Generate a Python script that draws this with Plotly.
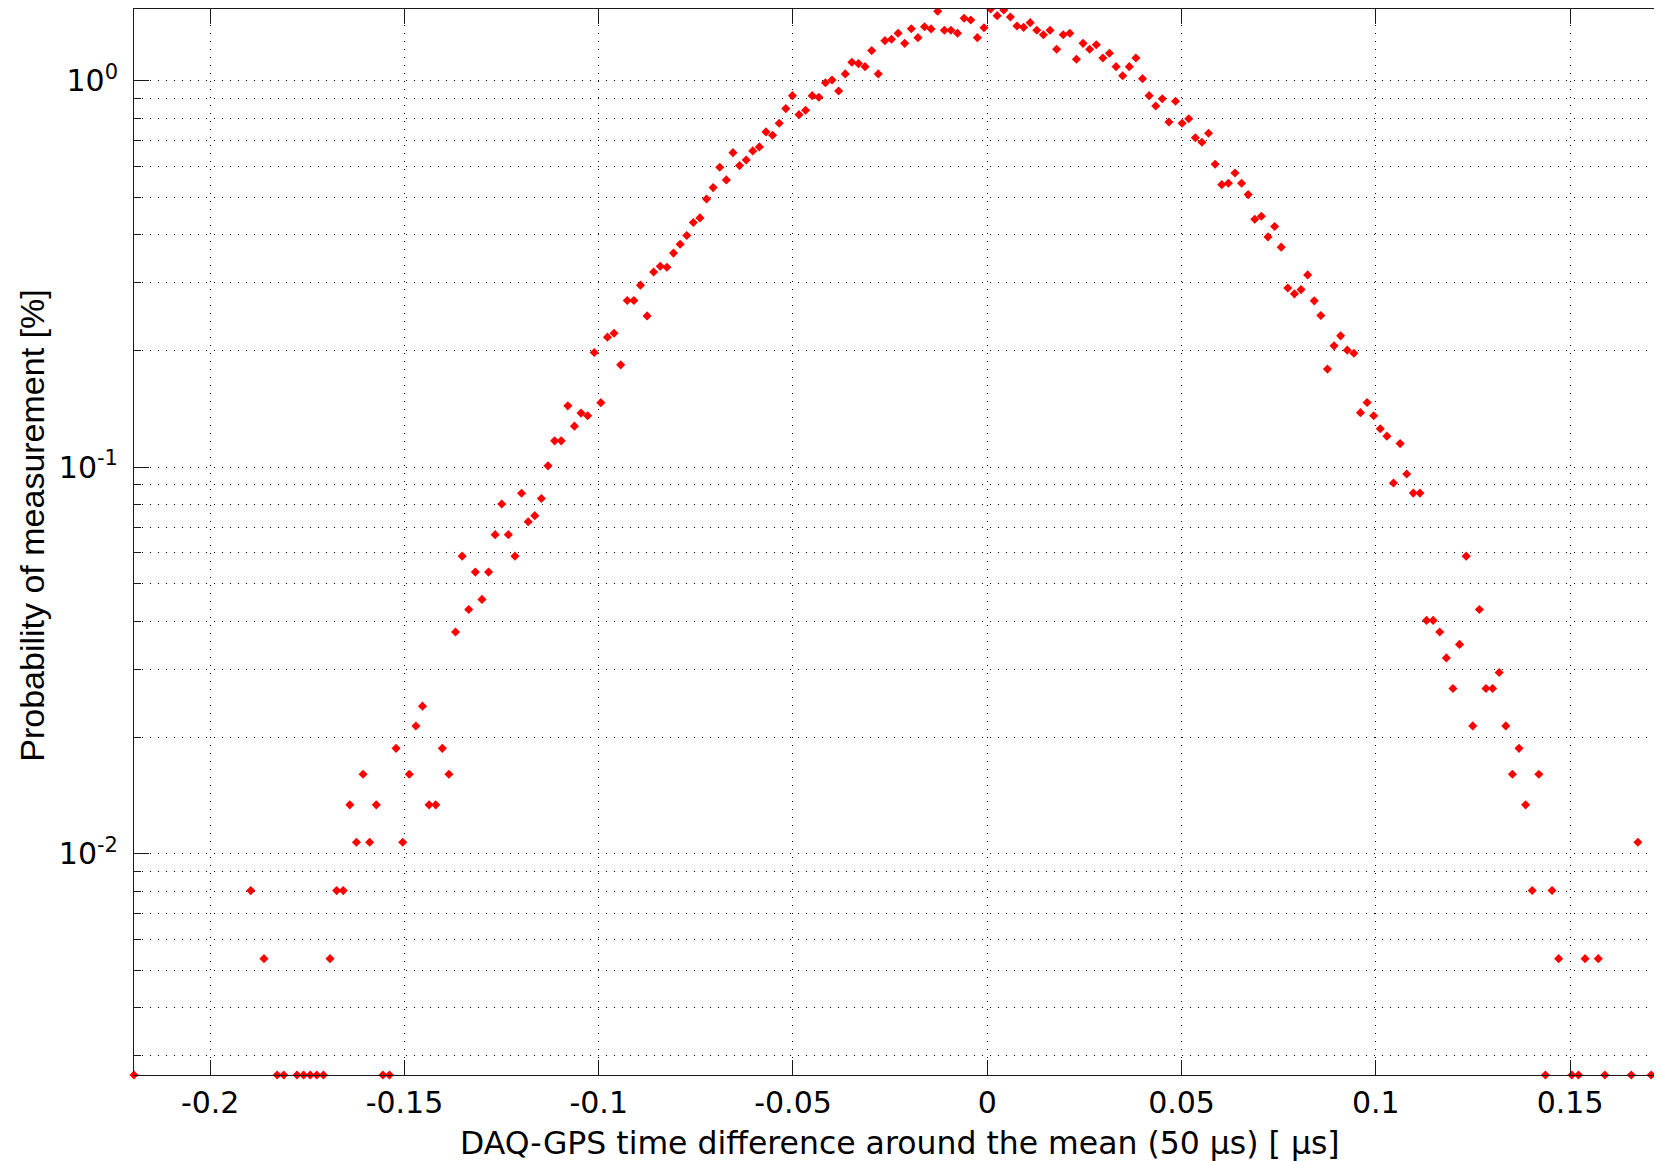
import math
import plotly.graph_objects as go

# ---------------- data (bin centres in µs, probability in %) ----------------
x_left_tail = [-0.2196, -0.18955, -0.18615, -0.18275, -0.18105, -0.17765, -0.17595,
               -0.17425, -0.17255, -0.17085, -0.16915, -0.16745, -0.16575, -0.16405,
               -0.16235, -0.16065, -0.15895, -0.15725, -0.15555, -0.15385, -0.15215,
               -0.15045, -0.14875, -0.14705, -0.14535, -0.14365, -0.14195, -0.14025,
               -0.13855]
y_left_tail = [0.002676, 0.008028, 0.005352, 0.002676, 0.002676, 0.002676, 0.002676,
               0.002676, 0.002676, 0.002676, 0.005352, 0.008028, 0.008028, 0.01338,
               0.010704, 0.016056, 0.010704, 0.01338, 0.002676, 0.002676, 0.018732,
               0.010704, 0.016056, 0.021408, 0.024084, 0.01338, 0.01338, 0.018732,
               0.016056]

x_core = [-0.13685, -0.13515, -0.13345, -0.13175, -0.13005, -0.12835, -0.12665, -0.12495,
          -0.12325, -0.12155, -0.11985, -0.11815, -0.11645, -0.11475, -0.11305, -0.11135,
          -0.10965, -0.10795, -0.10625, -0.10455, -0.10285, -0.10115, -0.09945, -0.09775,
          -0.09605, -0.09435, -0.09265, -0.09095, -0.08925, -0.08755, -0.08585, -0.08415,
          -0.08245, -0.08075, -0.07905, -0.07735, -0.07565, -0.07395, -0.07225, -0.07055,
          -0.06885, -0.06715, -0.06545, -0.06375, -0.06205, -0.06035, -0.05865, -0.05695,
          -0.05525, -0.05355, -0.05185, -0.05015, -0.04845, -0.04675, -0.04505, -0.04335,
          -0.04165, -0.03995, -0.03825, -0.03655, -0.03485, -0.03315, -0.03145, -0.02975,
          -0.02805, -0.02635, -0.02465, -0.02295, -0.02125, -0.01955, -0.01785, -0.01615,
          -0.01445, -0.01275, -0.01105, -0.00935, -0.00765, -0.00595, -0.00425, -0.00255,
          -0.00085, 0.00085, 0.00255, 0.00425, 0.00595, 0.00765, 0.00935, 0.01105,
          0.01275, 0.01445, 0.01615, 0.01785, 0.01955, 0.02125, 0.02295, 0.02465,
          0.02635, 0.02805, 0.02975, 0.03145, 0.03315, 0.03485, 0.03655, 0.03825,
          0.03995, 0.04165, 0.04335, 0.04505, 0.04675, 0.04845, 0.05015, 0.05185,
          0.05355, 0.05525, 0.05695, 0.05865, 0.06035, 0.06205, 0.06375, 0.06545,
          0.06715, 0.06885, 0.07055, 0.07225, 0.07395, 0.07565, 0.07735, 0.07905,
          0.08075, 0.08245, 0.08415, 0.08585, 0.08755, 0.08925, 0.09095, 0.09265,
          0.09435, 0.09605, 0.09775, 0.09945, 0.10115, 0.10285, 0.10455, 0.10625,
          0.10795, 0.10965, 0.11135]
y_core = [0.03746, 0.05887, 0.04282, 0.05352, 0.04549, 0.05352, 0.0669, 0.08028,
          0.0669, 0.05887, 0.08563, 0.07225, 0.07493, 0.08296, 0.1008, 0.117,
          0.117, 0.1441, 0.1277, 0.138, 0.1358, 0.198, 0.1469, 0.217,
          0.222, 0.184, 0.27, 0.27, 0.2958, 0.2463, 0.320, 0.331,
          0.329, 0.358, 0.3775, 0.3974, 0.4294, 0.4415, 0.4943, 0.5288,
          0.597, 0.5536, 0.6513, 0.6029, 0.6236, 0.658, 0.674, 0.737,
          0.7226, 0.776, 0.8466, 0.9146, 0.8168, 0.8386, 0.9146, 0.9059,
          0.988, 1.004, 0.94, 1.041, 1.116, 1.107, 1.087, 1.196,
          1.041, 1.269, 1.28, 1.326, 1.249, 1.363, 1.292, 1.379,
          1.361, 1.512, 1.35, 1.35, 1.326, 1.45, 1.435, 1.292,
          1.371, 1.532, 1.473, 1.523, 1.461, 1.385, 1.374, 1.413,
          1.35, 1.315, 1.35, 1.206, 1.315, 1.326, 1.136, 1.249,
          1.206, 1.239, 1.145, 1.177, 1.087, 1.03, 1.087, 1.145,
          1.012, 0.9146, 0.86, 0.898, 0.782, 0.8844, 0.776, 0.797,
          0.712, 0.693, 0.731, 0.6079, 0.5383, 0.5428, 0.5771, 0.5428,
          0.5073, 0.4381, 0.4459, 0.3943, 0.4194, 0.3709, 0.2909, 0.2808,
          0.288, 0.3144, 0.2694, 0.2468, 0.1794, 0.206, 0.2187, 0.2008,
          0.1972, 0.1384, 0.147, 0.1358, 0.1257, 0.1203, 0.091, 0.1151,
          0.096, 0.0857, 0.0857]

x_right_tail = [0.11305, 0.11475, 0.11645, 0.11815, 0.11985, 0.12155, 0.12325, 0.12495,
                0.12665, 0.12835, 0.13005, 0.13175, 0.13345, 0.13515, 0.13685, 0.13855,
                0.14025, 0.14195, 0.14365, 0.14535, 0.14705, 0.15045, 0.15215, 0.15385,
                0.15725, 0.15895, 0.16575, 0.16745, 0.17085]
y_right_tail = [0.04014, 0.04014, 0.03746, 0.03211, 0.02676, 0.03479, 0.05887, 0.02141,
                0.04282, 0.02676, 0.02676, 0.02944, 0.02141, 0.01606, 0.01873, 0.01338,
                0.00803, 0.01606, 0.002676, 0.00803, 0.005352, 0.002676, 0.002676, 0.005352,
                0.005352, 0.002676, 0.002676, 0.010704, 0.002676]

x_tick_vals = [-0.2, -0.15, -0.1, -0.05, 0, 0.05, 0.1, 0.15]
x_tick_text = ["-0.2", "-0.15", "-0.1", "-0.05", "0", "0.05", "0.1", "0.15"]
y_tick_vals = [0.01, 0.1, 1]
y_tick_text = ["10<sup>-2</sup>", "10<sup>-1</sup>", "10<sup>0</sup>"]
y_minor_vals = [0.003, 0.004, 0.005, 0.006, 0.007, 0.008, 0.009,
                0.02, 0.03, 0.04, 0.05, 0.06, 0.07, 0.08, 0.09,
                0.2, 0.3, 0.4, 0.5, 0.6, 0.7, 0.8, 0.9]

x_range = [-0.2196, 0.17365]
y_range = [math.log10(0.002676), 0.1854]

x_title = "DAQ-GPS time difference around the mean (50 μs) [ μs]"
y_title = "Probability of measurement [%]"

# ---------------- figure ----------------
PAGE = 8                      # default body margin of the html page
W, H = 1662 - PAGE, 1161 - PAGE
L_M, R_M, T_M, B_M = 134 - PAGE, 0, 9 - PAGE, 85.5
PH = H - T_M - B_M
PW = W - L_M - R_M

AX = "#1a1a1a"
TICK_FONT = dict(family="DejaVu Sans", size=30, color="black")


def px_x(px):   # page pixel -> paper x
    return (px - PAGE - L_M) / PW


def px_y(py):   # page pixel -> paper y
    return (T_M + PH - (py - PAGE)) / PH


fig = go.Figure()
fig.add_trace(go.Scatter(
    x=x_left_tail + x_core + x_right_tail,
    y=y_left_tail + y_core + y_right_tail,
    mode="markers",
    marker=dict(symbol="diamond", size=7, color="#ff0000", line=dict(width=0)),
    cliponaxis=False,
    showlegend=False,
))

fig.update_layout(
    width=W, height=H,
    margin=dict(l=L_M, r=R_M, t=T_M, b=B_M, pad=0, autoexpand=False),
    paper_bgcolor="white", plot_bgcolor="white",
    showlegend=False,
)

fig.update_xaxes(
    range=x_range, showline=True, linecolor=AX, linewidth=1, mirror="ticks",
    ticks="inside", ticklen=15, tickwidth=1, tickcolor=AX,
    tickmode="array", tickvals=x_tick_vals, ticktext=x_tick_text,
    tickfont=TICK_FONT, ticklabelstandoff=1,
    showgrid=True, gridcolor="black", gridwidth=1, griddash="1px,7px",
    zeroline=False, automargin=False,
)
fig.update_yaxes(
    type="log", range=y_range, showline=True, linecolor=AX, linewidth=1, mirror=False,
    ticks="inside", ticklen=15, tickwidth=1, tickcolor=AX,
    tickmode="array", tickvals=y_tick_vals, ticktext=y_tick_text,
    tickfont=TICK_FONT, ticklabelstandoff=9,
    showgrid=True, gridcolor="black", gridwidth=1, griddash="1px,7px",
    minor=dict(tickmode="array", tickvals=y_minor_vals, ticks="inside", ticklen=7,
               tickwidth=1, tickcolor=AX, showgrid=True, gridcolor="black",
               gridwidth=1, griddash="1px,7px"),
    zeroline=False, automargin=False,
)

# major ticks of the (cropped) right-hand box edge
span = y_range[1] - y_range[0]
for v in y_tick_vals:
    yp = (math.log10(v) - y_range[0]) / span
    fig.add_shape(type="line", xref="paper", yref="paper", xsizemode="pixel", xanchor=1,
                  x0=-7, x1=0, y0=yp, y1=yp, line=dict(color=AX, width=1))

# axis titles
fig.add_annotation(text=x_title, xref="paper", yref="paper",
                   x=px_x(899.5), y=px_y(1144),
                   xanchor="center", yanchor="middle", showarrow=False,
                   font=dict(family="DejaVu Sans", size=31.5, color="black"))
fig.add_annotation(text=y_title, xref="paper", yref="paper",
                   x=px_x(32), y=px_y(526), textangle=-90,
                   xanchor="center", yanchor="middle", showarrow=False,
                   font=dict(family="Liberation Sans", size=34, color="black"))

fig.write_html("out.html")
